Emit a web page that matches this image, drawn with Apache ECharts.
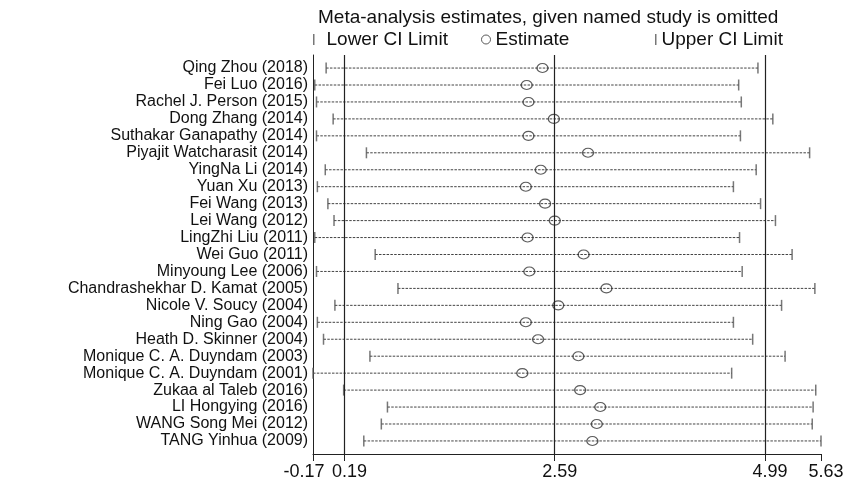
<!DOCTYPE html>
<html>
<head>
<meta charset="utf-8">
<script src="https://cdn.jsdelivr.net/npm/echarts@6/dist/echarts.min.js"></script>
<style>
html,body{margin:0;padding:0;background:#fff;}
#chart{width:859px;height:482px;}
</style>
</head>
<body>
<div id="chart"></div>
<script>
const studies = [
  "Qing Zhou (2018)", "Fei Luo (2016)", "Rachel J. Person (2015)", "Dong Zhang (2014)",
  "Suthakar Ganapathy (2014)", "Piyajit Watcharasit (2014)", "YingNa Li (2014)", "Yuan Xu (2013)",
  "Fei Wang (2013)", "Lei Wang (2012)", "LingZhi Liu (2011)", "Wei Guo (2011)",
  "Minyoung Lee (2006)", "Chandrashekhar D. Kamat (2005)", "Nicole V. Soucy (2004)", "Ning Gao (2004)",
  "Heath D. Skinner (2004)", "Monique C. A. Duyndam (2003)", "Monique C. A. Duyndam (2001)",
  "Zukaa al Taleb (2016)", "LI Hongying (2016)", "WANG Song Mei (2012)", "TANG Yinhua (2009)"
];
const lowerCI = [-0.02, -0.15, -0.13, 0.06, -0.13, 0.44, -0.03, -0.12, 0.00, 0.07, -0.15, 0.54,
  -0.13, 0.80, 0.08, -0.12, -0.05, 0.48, -0.17, 0.18, 0.68, 0.61, 0.41];
const estimate = [2.45, 2.27, 2.29, 2.58, 2.29, 2.97, 2.43, 2.26, 2.48, 2.59, 2.28, 2.92,
  2.30, 3.18, 2.63, 2.26, 2.40, 2.86, 2.22, 2.88, 3.11, 3.07, 3.02];
const upperCI = [4.91, 4.69, 4.72, 5.08, 4.71, 5.50, 4.89, 4.63, 4.94, 5.11, 4.70, 5.30,
  4.73, 5.56, 5.18, 4.63, 4.85, 5.22, 4.61, 5.57, 5.54, 5.53, 5.63];
const xTicks = [-0.17, 0.19, 2.59, 4.99, 5.63];
const refLines = [0.19, 2.59, 4.99];
const titleText = "Meta-analysis estimates, given named study is omitted";

const FONT = "'Liberation Sans', Arial, sans-serif";
const chart = echarts.init(document.getElementById('chart'), null, {renderer: 'canvas'});

const rowIdx = studies.map((s, i) => i);
const ciData = studies.map((s, i) => [lowerCI[i], upperCI[i], i]);
const loData = studies.map((s, i) => [lowerCI[i], i]);
const upData = studies.map((s, i) => [upperCI[i], i]);
const estData = studies.map((s, i) => [estimate[i], i]);

const legendText = {color: '#111', fontSize: 19, fontFamily: FONT};

chart.setOption({
  animation: false,
  backgroundColor: '#fff',
  title: {
    text: titleText,
    left: 313, top: 3,
    textStyle: {color: '#111', fontSize: 19, fontWeight: 'normal', fontFamily: FONT}
  },
  legend: [
    {data: ['Lower CI Limit'], left: 313, top: 30, padding: 0, icon: 'rect', itemWidth: 1.5, itemHeight: 11,
     textStyle: Object.assign({padding: [0, 0, 0, 7]}, legendText)},
    {data: ['Estimate'], left: 481, top: 30, padding: 0, icon: 'circle', itemWidth: 9, itemHeight: 9,
     itemStyle: {borderWidth: 1},
     textStyle: legendText},
    {data: ['Upper CI Limit'], left: 655, top: 30, padding: 0, icon: 'rect', itemWidth: 1.5, itemHeight: 11,
     textStyle: legendText}
  ],
  grid: {left: 313, right: 38, top: 55, bottom: 28, containLabel: false},
  xAxis: {
    type: 'value', min: -0.17, max: 5.63,
    axisLine: {show: true, onZero: false, lineStyle: {color: '#222', width: 1}},
    axisTick: {show: true, customValues: xTicks, length: 7, lineStyle: {color: '#222'}},
    splitLine: {show: false},
    axisLabel: {
      customValues: xTicks, margin: 9,
      color: '#111', fontSize: 18, fontFamily: FONT,
      formatter: function (v) {
        const s = v.toFixed(2);
        return v < 0 ? '{l|' + s + '}' : '{n|' + s + '}';
      },
      rich: {
        l: {fontSize: 18, fontFamily: FONT, color: '#111', padding: [0, 18, 0, 0]},
        n: {fontSize: 18, fontFamily: FONT, color: '#111', padding: [0, 0, 0, 10]}
      }
    }
  },
  yAxis: {
    type: 'value', inverse: true, min: -0.77, max: 22.77,
    axisLine: {show: true, onZero: false, lineStyle: {color: '#222', width: 1}},
    axisTick: {show: false},
    splitLine: {show: false},
    axisLabel: {
      customValues: rowIdx, margin: 5,
      color: '#111', fontSize: 16, fontFamily: FONT,
      formatter: function (v) { return studies[Math.round(v)]; }
    }
  },
  series: [
    {
      type: 'custom', name: 'CI',
      data: ciData,
      encode: {x: [0, 1], y: 2},
      silent: true,
      renderItem: function (params, api) {
        const p1 = api.coord([api.value(0), api.value(2)]);
        const p2 = api.coord([api.value(1), api.value(2)]);
        return {
          type: 'line',
          shape: {x1: p1[0], y1: p1[1], x2: p2[0], y2: p2[1]},
          style: {stroke: '#444', lineWidth: 1, lineDash: [2.5, 1.3]}
        };
      },
      markLine: {
        silent: true, symbol: 'none',
        label: {show: false},
        lineStyle: {color: '#222', width: 1.2, type: 'solid'},
        data: refLines.map(v => ({xAxis: v}))
      },
      z: 2
    },
    {
      type: 'scatter', name: 'Lower CI Limit', data: loData,
      symbol: 'rect', symbolSize: [1.5, 11],
      itemStyle: {color: '#555'}, z: 3
    },
    {
      type: 'scatter', name: 'Upper CI Limit', data: upData,
      symbol: 'rect', symbolSize: [1.5, 11],
      itemStyle: {color: '#555'}, z: 3
    },
    {
      type: 'scatter', name: 'Estimate', data: estData,
      symbol: 'circle', symbolSize: [11, 9],
      itemStyle: {color: 'rgba(255,255,255,0)', borderColor: '#333', borderWidth: 1.2}, z: 4
    }
  ]
});
</script>
</body>
</html>
